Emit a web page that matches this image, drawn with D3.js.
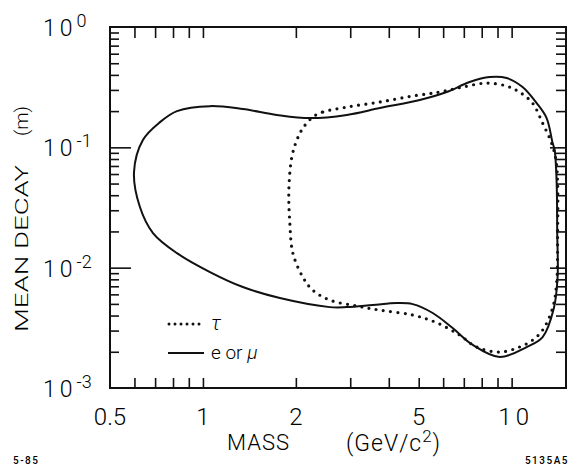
<!DOCTYPE html>
<html><head><meta charset="utf-8">
<script src="https://cdn.jsdelivr.net/npm/d3@7"></script>
<style>
body{margin:0;background:#fff}
svg text{font-family:Roboto,"Liberation Sans",Arial,sans-serif;font-weight:300;fill:#000}
svg text.note{font-weight:500}
</style></head><body>
<svg id="chart" width="570" height="466"></svg>
<script>
// Closed reach contours in (mass, mean decay length) for a heavy lepton decaying to tau or e/mu
const tauMass  = [2.27, 2.445, 2.924, 3.74, 4.78, 5.85, 6.94, 8.30, 9.63, 10.6, 11.69, 12.6, 13.47, 13.9, 14.09, 14.09, 13.99, 13.57, 12.6, 11.69, 10.6, 9.15, 7.70, 6.79, 5.7, 4.78, 3.74, 3.15, 2.576, 2.27, 2.107, 1.956, 1.912, 1.898, 1.941, 2.015, 2.11];
const tauDecay = [0.1786, 0.1965, 0.216, 0.238, 0.267, 0.288, 0.317, 0.342, 0.323, 0.288, 0.233, 0.159, 0.1086, 0.08, 0.0505, 0.0194, 0.0075, 0.0046, 0.00303, 0.0025, 0.00219, 0.00199, 0.00219, 0.00275, 0.0035, 0.00404, 0.00444, 0.0048, 0.00538, 0.0065, 0.00835, 0.0132, 0.0235, 0.0442, 0.0831, 0.115, 0.145];

const lepMass  = [0.598, 0.639, 0.726, 0.824, 1.054, 1.347, 1.736, 2.22, 2.924, 3.74, 5.04, 6.16, 7.31, 8.49, 9.63, 10.85, 12.05, 12.98, 13.57, 13.78, 13.99, 14.05, 14.09, 13.7, 12.6, 11.18, 9.15, 7.48, 6.44, 5.55, 4.78, 4.245, 3.55, 2.924, 2.576, 1.775, 1.347, 1.054, 0.824, 0.689, 0.625];
const lepDecay = [0.062, 0.115, 0.162, 0.200, 0.220, 0.208, 0.186, 0.175, 0.186, 0.212, 0.247, 0.288, 0.349, 0.384, 0.377, 0.317, 0.233, 0.175, 0.109, 0.095, 0.0505, 0.0194, 0.0084, 0.0046, 0.00265, 0.00219, 0.00181, 0.00228, 0.00315, 0.0042, 0.00498, 0.00508, 0.00489, 0.0047, 0.0047, 0.00559, 0.0069, 0.00919, 0.0132, 0.0194, 0.0319];

const xMinorTicks = [0.6, 0.7, 0.8, 0.9, 1, 2, 3, 4, 5, 6, 7, 8, 9, 10];
const xTickLabels = [0.5, 1, 2, 5, 10];
const yMinorTicks = d3.range(-3, 0).flatMap(e => d3.range(2, 10).map(k => k * Math.pow(10, e)));
const yMajorTicks = [0.1, 0.01];
const yDecadeExponents = [0, -1, -2, -3];

const svg = d3.select("#chart");
const pLeft = 110, pRight = 566, pTop = 27, pBottom = 388;

const x = d3.scaleLog().domain([0.5, 15]).range([pLeft, pRight]);
const y = d3.scaleLog().domain([1e-3, 1]).range([pBottom, pTop]);

// inward tick marks on all four sides
function ticks(axis, tx, ty) {
  const g = svg.append("g").attr("transform", `translate(${tx},${ty})`).call(axis);
  g.select(".domain").remove();
  g.selectAll(".tick line").attr("stroke", "#111").attr("stroke-width", 1.6);
  g.selectAll(".tick text").remove();
  return g;
}
ticks(d3.axisBottom(x).tickValues(xMinorTicks).tickSize(-10), 0, pBottom);
ticks(d3.axisTop(x).tickValues(xMinorTicks).tickSize(-11), 0, pTop);
ticks(d3.axisLeft(y).tickValues(yMinorTicks).tickSize(-9), pLeft, 0);
ticks(d3.axisLeft(y).tickValues(yMajorTicks).tickSize(-21), pLeft, 0);
ticks(d3.axisRight(y).tickValues(yMinorTicks).tickSize(-10), pRight, 0);
ticks(d3.axisRight(y).tickValues(yMajorTicks).tickSize(-16), pRight, 0);

// frame
svg.append("rect").attr("x", pLeft).attr("y", pTop).attr("width", pRight - pLeft).attr("height", pBottom - pTop)
  .attr("fill", "none").attr("stroke", "#111").attr("stroke-width", 2);

// x tick labels
svg.append("g").selectAll("text").data(xTickLabels).join("text")
  .attr("x", d => x(d) + (d === 10 ? 4 : 0)).attr("y", 425)
  .attr("text-anchor", "middle").attr("font-size", 24).attr("letter-spacing", d => d === 10 ? 4 : 0)
  .text(d => String(d));

// y decade labels 10^n
const yl = svg.append("g").selectAll("text").data(yDecadeExponents).join("text")
  .attr("x", 43).attr("y", d => y(Math.pow(10, d)) + 9)
  .attr("font-size", 23).attr("letter-spacing", 4);
yl.append("tspan").text("10");
yl.append("tspan").attr("dy", -9).attr("font-size", 18).attr("letter-spacing", 0).text(d => d === 0 ? "0" : "-" + (-d));

// axis titles
svg.append("text").attr("transform", "translate(28,332) rotate(-90)")
  .attr("font-size", 18).attr("textLength", 167).attr("lengthAdjust", "spacingAndGlyphs").text("MEAN DECAY");
svg.append("text").attr("transform", "translate(28,136) rotate(-90)")
  .attr("font-size", 18).attr("textLength", 30).attr("lengthAdjust", "spacingAndGlyphs").text("(m)");
svg.append("text").attr("x", 227).attr("y", 450).attr("font-size", 22).attr("letter-spacing", 1).text("MASS");
const gev = svg.append("text").attr("x", 346).attr("y", 451).attr("font-size", 23).attr("letter-spacing", 1);
gev.append("tspan").text("(GeV/c");
gev.append("tspan").attr("dy", -9).attr("font-size", 17).text("2");
gev.append("tspan").attr("dy", 9).text(")");

// corner notes
svg.append("text").attr("class", "note").attr("x", 13).attr("y", 464).attr("font-size", 10).attr("letter-spacing", 1.5).text("5-85");
svg.append("text").attr("class", "note").attr("x", 569).attr("y", 464).attr("text-anchor", "end").attr("font-size", 10)
  .attr("letter-spacing", 1.5).text("5135A5");

// contours
const line = d3.line().x(d => x(d[0])).y(d => y(d[1])).curve(d3.curveCatmullRomClosed.alpha(0.5));
const lepPts = d3.zip(lepMass, lepDecay);
const tauPts = d3.zip(tauMass, tauDecay);
svg.append("path").attr("d", line(lepPts)).attr("fill", "none").attr("stroke", "#111").attr("stroke-width", 2);
svg.append("path").attr("d", line(tauPts)).attr("fill", "none").attr("stroke", "#111").attr("stroke-width", 3.2)
  .attr("stroke-dasharray", "0 7.3").attr("stroke-linecap", "round");

// legend
const lg = svg.append("g");
lg.append("line").attr("x1", 169).attr("x2", 203).attr("y1", 324).attr("y2", 324)
  .attr("stroke", "#111").attr("stroke-width", 3).attr("stroke-dasharray", "0 6").attr("stroke-linecap", "round");
lg.append("text").attr("x", 211).attr("y", 330).attr("font-size", 20).attr("font-style", "italic").text("τ");
lg.append("line").attr("x1", 168).attr("x2", 204).attr("y1", 353).attr("y2", 353)
  .attr("stroke", "#111").attr("stroke-width", 2);
const em = lg.append("text").attr("x", 211).attr("y", 359).attr("font-size", 19);
em.append("tspan").text("e or ");
em.append("tspan").attr("font-style", "italic").text("μ");
</script>
</body></html>
